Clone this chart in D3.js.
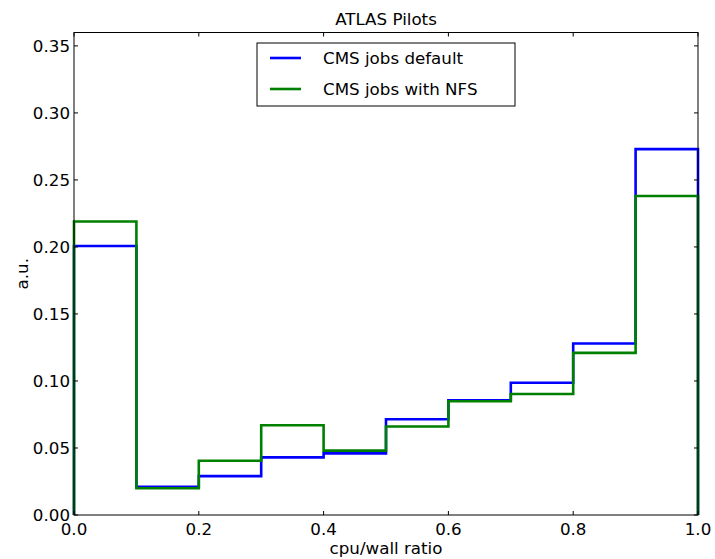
<!DOCTYPE html>
<html><head><meta charset="utf-8">
<script src="https://cdn.jsdelivr.net/npm/d3@7"></script>
<style>
body{margin:0;background:#fff;}
text{font-family:"DejaVu Sans",sans-serif;fill:#000;}
</style></head>
<body>
<svg id="c" width="715" height="559"></svg>
<script>
const binEdges = [0.0,0.1,0.2,0.3,0.4,0.5,0.6,0.7,0.8,0.9,1.0];
const defaultVals = [0.2007,0.021,0.029,0.043,0.046,0.0714,0.0856,0.0987,0.128,0.273];
const nfsVals     = [0.219,0.020,0.0405,0.067,0.048,0.066,0.0849,0.0903,0.121,0.238];
const seriesNames = ["CMS jobs default","CMS jobs with NFS"];
const seriesColors = ["#0000ff","#008000"];
const xTicks = [0.0,0.2,0.4,0.6,0.8,1.0];
const yTicks = [0.00,0.05,0.10,0.15,0.20,0.25,0.30,0.35];

const svg = d3.select("#c");
const L=74, R=698, T=32.5, B=515;
const x = d3.scaleLinear().domain([0,1]).range([L,R]);
const y = d3.scaleLinear().domain([0,0.36]).range([B,T]);
const fs = "16.7px";

function stepPts(vals){
  const pts=[[binEdges[0],0]];
  vals.forEach((v,i)=>{pts.push([binEdges[i],v]);pts.push([binEdges[i+1],v]);});
  pts.push([binEdges[binEdges.length-1],0]);
  return pts;
}
const line = d3.line().x(d=>x(d[0])).y(d=>y(d[1]));
[defaultVals,nfsVals].forEach((vals,i)=>{
  svg.append("path").attr("d",line(stepPts(vals)))
    .attr("fill","none").attr("stroke",seriesColors[i]).attr("stroke-width",2.6)
    .attr("stroke-linejoin","miter");
});

// frame
svg.append("rect").attr("x",L).attr("y",T).attr("width",R-L).attr("height",B-T)
  .attr("fill","none").attr("stroke","#000").attr("stroke-width",1);

// ticks (inward) on all sides
const tl=4;
xTicks.forEach(t=>{
  svg.append("line").attr("x1",x(t)).attr("x2",x(t)).attr("y1",B).attr("y2",B-tl).attr("stroke","#000");
  svg.append("line").attr("x1",x(t)).attr("x2",x(t)).attr("y1",T).attr("y2",T+tl).attr("stroke","#000");
  svg.append("text").attr("x",x(t)).attr("y",B+20).attr("text-anchor","middle").style("font-size",fs)
    .text(d3.format(".1f")(t));
});
yTicks.forEach(t=>{
  svg.append("line").attr("x1",L).attr("x2",L+tl).attr("y1",y(t)).attr("y2",y(t)).attr("stroke","#000");
  svg.append("line").attr("x1",R).attr("x2",R-tl).attr("y1",y(t)).attr("y2",y(t)).attr("stroke","#000");
  svg.append("text").attr("x",L-4).attr("y",y(t)).attr("dy","0.36em").attr("text-anchor","end").style("font-size",fs)
    .text(d3.format(".2f")(t));
});

// labels
svg.append("text").attr("x",(L+R)/2).attr("y",25).attr("text-anchor","middle").style("font-size",fs).text("ATLAS Pilots");
svg.append("text").attr("x",(L+R)/2).attr("y",554).attr("text-anchor","middle").style("font-size",fs).text("cpu/wall ratio");
svg.append("text").attr("transform",`translate(28,${(T+B)/2}) rotate(-90)`).attr("text-anchor","middle").style("font-size",fs).text("a.u.");

// legend
const lg = svg.append("g");
lg.append("rect").attr("x",257).attr("y",43).attr("width",258).attr("height",63)
  .attr("fill","#fff").attr("stroke","#000").attr("stroke-width",1);
seriesNames.forEach((n,i)=>{
  const yy = 58 + i*31;
  lg.append("line").attr("x1",270).attr("x2",301).attr("y1",yy).attr("y2",yy)
    .attr("stroke",seriesColors[i]).attr("stroke-width",2.6);
  lg.append("text").attr("x",323).attr("y",yy).attr("dy","0.36em").style("font-size",fs).text(n);
});
</script>
</body></html>
